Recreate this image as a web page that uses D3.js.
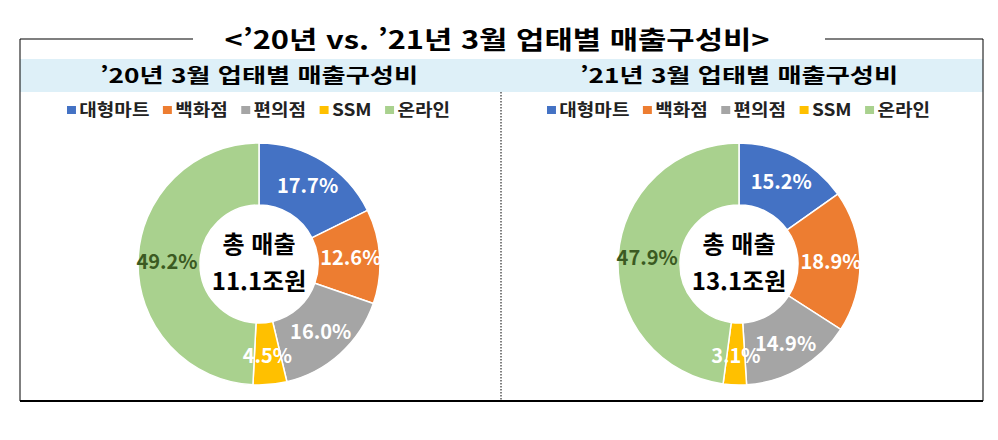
<!DOCTYPE html>
<html lang="ko">
<head>
<meta charset="utf-8">
<title>업태별 매출구성비</title>
<script src="https://d3js.org/d3.v7.min.js"></script>
<style>
body { margin: 0; background: #fff; }
text { font-family: "Noto Sans CJK KR", "Noto Sans", sans-serif; }
</style>
</head>
<body>
<div id="chart"></div>
<script>

const categories = ["대형마트", "백화점", "편의점", "SSM", "온라인"];
const colors = ["#4472C4", "#ED7D31", "#A5A5A5", "#FFC000", "#A9D18E"];
const share2020 = [17.7, 12.6, 16.0, 4.5, 49.2];
const share2021 = [15.2, 18.9, 14.9, 3.1, 47.9];
const totals = ["11.1조원", "13.1조원"];
const subtitles = ["’20년 3월 업태별 매출구성비", "’21년 3월 업태별 매출구성비"];

const width = 998, height = 440;

const svg = d3.select("#chart").append("svg")
    .attr("width", width)
    .attr("height", height);

// frame
svg.append("rect").attr("x", 20).attr("y", 59).attr("width", 963).attr("height", 33)
    .attr("fill", "#DEF0F8");
svg.append("line").attr("x1", 20).attr("x2", 193).attr("y1", 39).attr("y2", 39).attr("stroke", "#000").attr("stroke-width", 1.2);
svg.append("line").attr("x1", 825).attr("x2", 983).attr("y1", 39).attr("y2", 39).attr("stroke", "#000").attr("stroke-width", 1.2);
svg.append("line").attr("x1", 20).attr("x2", 20).attr("y1", 39).attr("y2", 401).attr("stroke", "#000").attr("stroke-width", 1);
svg.append("line").attr("x1", 983).attr("x2", 983).attr("y1", 39).attr("y2", 401).attr("stroke", "#000").attr("stroke-width", 1);
svg.append("line").attr("x1", 20).attr("x2", 983).attr("y1", 401).attr("y2", 401).attr("stroke", "#000").attr("stroke-width", 2);
svg.append("line").attr("x1", 501).attr("x2", 501).attr("y1", 92).attr("y2", 400)
    .attr("stroke", "#000").attr("stroke-width", 1).attr("stroke-dasharray", "1.5,1.5");

svg.append("text")
    .attr("x", 497).attr("y", 49)
    .attr("text-anchor", "middle")
    .attr("font-size", 25).attr("font-weight", 700)
    .attr("textLength", 545).attr("lengthAdjust", "spacingAndGlyphs")
    .text("<’20년 vs. ’21년 3월 업태별 매출구성비>");

const pie = d3.pie().sort(null).value(d => d);
const arc = d3.arc().innerRadius(59).outerRadius(121);
const labelArc = d3.arc().innerRadius(92).outerRadius(92);

function panel(values, cx, idx) {
  const g = svg.append("g");

  g.append("text")
      .attr("x", cx).attr("y", 83)
      .attr("text-anchor", "middle")
      .attr("font-size", 20).attr("font-weight", 700)
      .attr("textLength", 318).attr("lengthAdjust", "spacingAndGlyphs")
      .text(subtitles[idx]);

  // legend
  const legend = g.append("g").attr("transform", "translate(" + (cx - 192) + ",110)");
  let lx = 0;
  categories.forEach((c, i) => {
    legend.append("rect").attr("x", lx).attr("y", -4).attr("width", 8).attr("height", 8).attr("fill", colors[i]);
    const t = legend.append("text").attr("x", lx + 11).attr("y", 6)
        .attr("font-size", 17).attr("font-weight", 700).attr("fill", "#222")
        .text(c);
    lx += 11 + t.node().getComputedTextLength() + 12;
  });
  // stretch legend to the reference width
  const lw = lx - 12;
  legend.attr("transform", "translate(" + (cx - 192) + ",110) scale(" + (383 / lw) + ",1)");

  const donut = g.append("g").attr("transform", "translate(" + cx + ",264)");
  const arcs = pie(values);
  donut.selectAll("path").data(arcs).enter().append("path")
      .attr("d", arc)
      .attr("fill", (d, i) => colors[i])
      .attr("stroke", "#fff").attr("stroke-width", 1.5);

  donut.selectAll("text.lbl").data(arcs).enter().append("text")
      .attr("class", "lbl")
      .attr("transform", d => "translate(" + labelArc.centroid(d) + ")")
      .attr("text-anchor", "middle").attr("dy", "0.36em")
      .attr("font-size", 20).attr("font-weight", 700)
      .attr("fill", (d, i) => i === 4 ? "#3B5A22" : "#fff")
      .text(d => d.data.toFixed(1) + "%");

  donut.append("text").attr("x", 0).attr("y", -11)
      .attr("text-anchor", "middle").attr("font-size", 24).attr("font-weight", 700)
      .text("총 매출");
  donut.append("text").attr("x", 0).attr("y", 26)
      .attr("text-anchor", "middle").attr("font-size", 24).attr("font-weight", 700)
      .text(totals[idx]);
}

panel(share2020, 259, 0);
panel(share2021, 739, 1);

</script>
</body>
</html>
